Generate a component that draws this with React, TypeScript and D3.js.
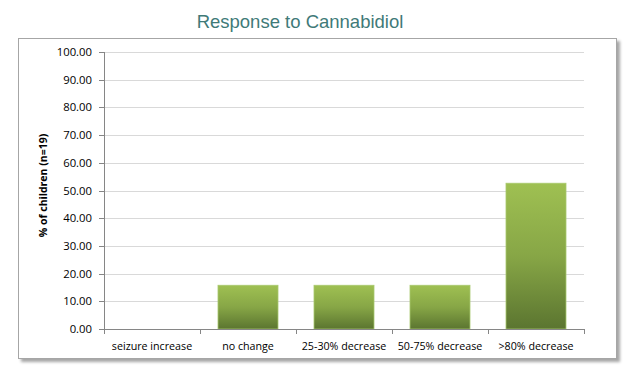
import React from "react";
import * as d3 from "d3";

const categories = ["seizure increase", "no change", "25-30% decrease", "50-75% decrease", ">80% decrease"];
const values = [0, 15.79, 15.79, 15.79, 52.63];
const yTicks = [0, 10, 20, 30, 40, 50, 60, 70, 80, 90, 100];

export default function App() {
  const W = 640, H = 367;
  const left = 104, right = 584, top = 52, bottom = 329;
  const x = d3.scaleBand<string>().domain(categories).range([left, right]).paddingInner(0.375).paddingOuter(0.1875);
  const xb = d3.scaleBand<string>().domain(categories).range([left, right]);
  const y = d3.scaleLinear().domain([0, 100]).range([bottom, top]);
  const font = "'Open Sans', Lato, 'Liberation Sans', sans-serif";
  return (
    <svg width={W} height={H} style={{ position: "absolute", left: 0, top: 0, display: "block" }}>
      <defs>
        <linearGradient id="barg" x1="0" y1="0" x2="0" y2="1">
          <stop offset="0" stopColor="#9fc052" />
          <stop offset="0.5" stopColor="#87a646" />
          <stop offset="1" stopColor="#5b7530" />
        </linearGradient>
        <filter id="sh" x="-5%" y="-5%" width="110%" height="110%">
          <feDropShadow dx="3" dy="3" stdDeviation="1.5" floodColor="#000" floodOpacity="0.35" />
        </filter>
      </defs>
      <rect x={0} y={0} width={W} height={H} fill="#fff" />
      <text x={300} y={28} textAnchor="middle" fontFamily="'Liberation Sans', Arial, sans-serif" fontSize={18.5} fill="#3f7a78">
        Response to Cannabidiol
      </text>
      <rect x={18.5} y={38.5} width={598} height={320} fill="#fff" stroke="#a6a6a6" strokeWidth={1} filter="url(#sh)" />
      {yTicks.map((t) => (
        <g key={t}>
          {t > 0 && <line x1={left} x2={right} y1={Math.round(y(t)) + 0.5} y2={Math.round(y(t)) + 0.5} stroke="#d9d9d9" />}
          <line x1={left - 5} x2={left} y1={Math.round(y(t)) + 0.5} y2={Math.round(y(t)) + 0.5} stroke="#868686" />
          <text x={92} y={y(t) + 4} textAnchor="end" fontFamily={font} fontSize={11.3} fill="#000">
            {t.toFixed(2)}
          </text>
        </g>
      ))}
      {categories.map((c, i) => (
        <rect key={c} x={x(c)!} y={y(values[i])} width={x.bandwidth()} height={bottom - y(values[i])}
          fill="url(#barg)" stroke="#a9c96e" strokeWidth={values[i] > 0 ? 0.8 : 0} />
      ))}
      <line x1={left + 0.5} x2={left + 0.5} y1={top} y2={bottom} stroke="#868686" />
      <line x1={left} x2={right} y1={bottom + 0.5} y2={bottom + 0.5} stroke="#868686" />
      {[...categories.map((c) => xb(c)!), right].map((px, i) => (
        <line key={i} x1={Math.round(px) + 0.5} x2={Math.round(px) + 0.5} y1={bottom} y2={bottom + 5} stroke="#868686" />
      ))}
      {categories.map((c) => (
        <text key={c} x={xb(c)! + xb.bandwidth() / 2} y={350} textAnchor="middle" fontFamily={font} fontSize={10.7} fill="#000">
          {c}
        </text>
      ))}
      <text transform={`translate(47,${(top + bottom) / 2 - 5}) rotate(-90)`} textAnchor="middle" fontFamily={font} fontSize={10.5} fontWeight="bold" fill="#000">
        % of children (n=19)
      </text>
    </svg>
  );
}
